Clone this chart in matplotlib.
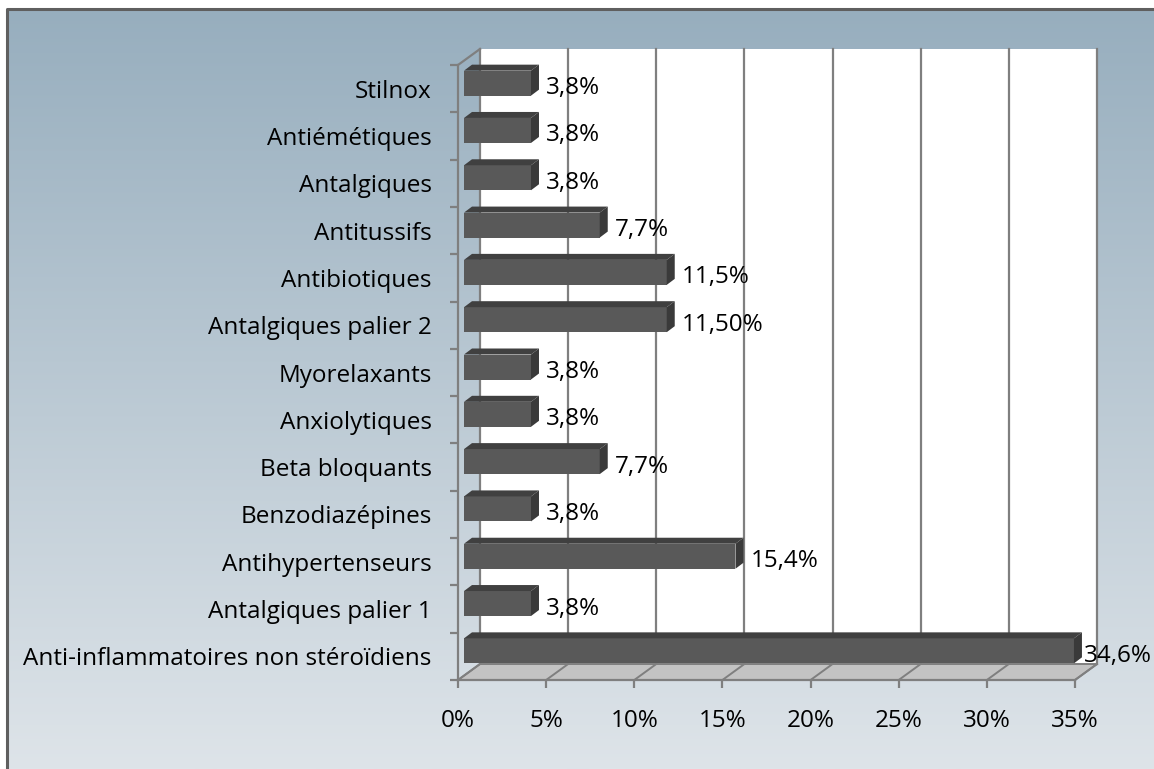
import numpy as np
import matplotlib.pyplot as plt
from matplotlib.patches import Polygon, Rectangle

plt.rcParams['font.family'] = ['Open Sans', 'DejaVu Sans']

# Data (bottom to top)
categories = ['Anti-inflammatoires non stéroïdiens', 'Antalgiques palier 1',
              'Antihypertenseurs', 'Benzodiazépines', 'Beta bloquants',
              'Anxiolytiques', 'Myorelaxants', 'Antalgiques palier 2',
              'Antibiotiques', 'Antitussifs', 'Antalgiques', 'Antiémétiques',
              'Stilnox']
values = [34.6, 3.8, 15.4, 3.8, 7.7, 3.8, 3.8, 11.5, 11.5, 7.7, 3.8, 3.8, 3.8]
value_labels = ['34,6%', '3,8%', '15,4%', '3,8%', '7,7%', '3,8%', '3,8%',
                '11,50%', '11,5%', '7,7%', '3,8%', '3,8%', '3,8%']
xticks = [0, 5, 10, 15, 20, 25, 30, 35]
xtick_labels = ['0%', '5%', '10%', '15%', '20%', '25%', '30%', '35%']

W, H = 1154, 769
FS = 17.5
fig = plt.figure(figsize=(W / 100, H / 100), dpi=100)

# background: gradient panel with dark frame on top/left
bg = fig.add_axes([0, 0, 1, 1])
bg.set_xlim(0, W)
bg.set_ylim(H, 0)
bg.axis('off')
grad = np.linspace(0, 1, 256)[:, None]
top_c = np.array([0x97, 0xAE, 0xBE]) / 255
bot_c = np.array([0xDE, 0xE4, 0xE9]) / 255
img = top_c[None, None, :] * (1 - grad[..., None]) + bot_c[None, None, :] * grad[..., None]
bg.imshow(img, extent=[7, W, H, 9], aspect='auto', zorder=0)
bg.plot([7, 7, W], [H, 9, 9], color='#5f5f5f', lw=2.2, zorder=1)

# main axes (front plane)
ax = fig.add_axes([458 / W, (H - 680) / H, (1075 - 458) / W, (680 - 65) / H])
ax.set_xlim(0, 35)
ax.set_ylim(-0.5, len(categories) - 0.5)
ax.patch.set_visible(False)

bb = ax.get_window_extent()
sx = 35 / bb.width
sy = len(categories) / bb.height

# depth of the 3D box
DX, DY = 22 * sx, 16 * sy
y0, y1 = -0.5, len(categories) - 0.5
grid_c = '#7f7f7f'

# back wall
ax.add_patch(Rectangle((DX, y0 + DY), 35, y1 - y0, fc='white', ec='none',
                       zorder=0, clip_on=False))
for x in xticks:
    ax.plot([x + DX, x + DX], [y0 + DY, y1 + DY], color=grid_c, lw=1.6,
            zorder=1, clip_on=False)

# floor
ax.add_patch(Polygon([(0, y0), (35, y0), (35 + DX, y0 + DY), (DX, y0 + DY)],
                     closed=True, fc='#c3c3c3', ec=grid_c, lw=1.4,
                     zorder=1, clip_on=False))
for x in xticks:
    ax.plot([x, x + DX], [y0, y0 + DY], color=grid_c, lw=1.4, zorder=1,
            clip_on=False)

# left wall top edge
ax.plot([0, DX], [y1, y1 + DY], color=grid_c, lw=1.6, zorder=1, clip_on=False)

# 3D bars
bx, by = 6 * sx, 5.5 * sy       # bar front offset
tx, ty = 8 * sx, 6 * sy         # bar depth
bh = 25 * sy
ypos = np.arange(len(categories))
ax.barh(ypos + by, values, left=bx, height=bh, color='#595959',
        edgecolor='none', zorder=3, clip_on=False)
for yi, v, lab in zip(ypos, values, value_labels):
    yc = yi + by
    top = [(bx, yc + bh / 2), (bx + v, yc + bh / 2),
           (bx + v + tx, yc + bh / 2 + ty), (bx + tx, yc + bh / 2 + ty)]
    ax.add_patch(Polygon(top, closed=True, fc='#404040', ec='none',
                         zorder=3, clip_on=False))
    side = [(bx + v, yc - bh / 2), (bx + v + tx, yc - bh / 2 + ty),
            (bx + v + tx, yc + bh / 2 + ty), (bx + v, yc + bh / 2)]
    ax.add_patch(Polygon(side, closed=True, fc='#3a3a3a', ec='none',
                         zorder=3, clip_on=False))
    # label next to the bar, pulled in if it would run off the chart
    lx = min(v + 21 * sx, 35 + 9 * sx)
    ax.text(lx, yi + 0.5 * sy, lab, fontsize=FS, va='center',
            ha='left', color='black', zorder=4, clip_on=False)

# axes, ticks and labels
for s in ['top', 'right']:
    ax.spines[s].set_visible(False)
for s in ['left', 'bottom']:
    ax.spines[s].set_color(grid_c)
    ax.spines[s].set_linewidth(1.6)
    ax.spines[s].set_zorder(2)

ax.set_yticks(ypos, categories, fontsize=FS)
ax.set_yticks(np.arange(y0, y1 + 0.01, 1), minor=True)
ax.tick_params(axis='y', which='major', length=0, pad=19)
ax.tick_params(axis='y', which='minor', length=6, width=1.6, color=grid_c)
ax.set_xticks(xticks, xtick_labels, fontsize=FS)
ax.tick_params(axis='x', which='major', length=6, width=1.6, color=grid_c,
               pad=15)

fig.savefig('out.png', dpi=100)
